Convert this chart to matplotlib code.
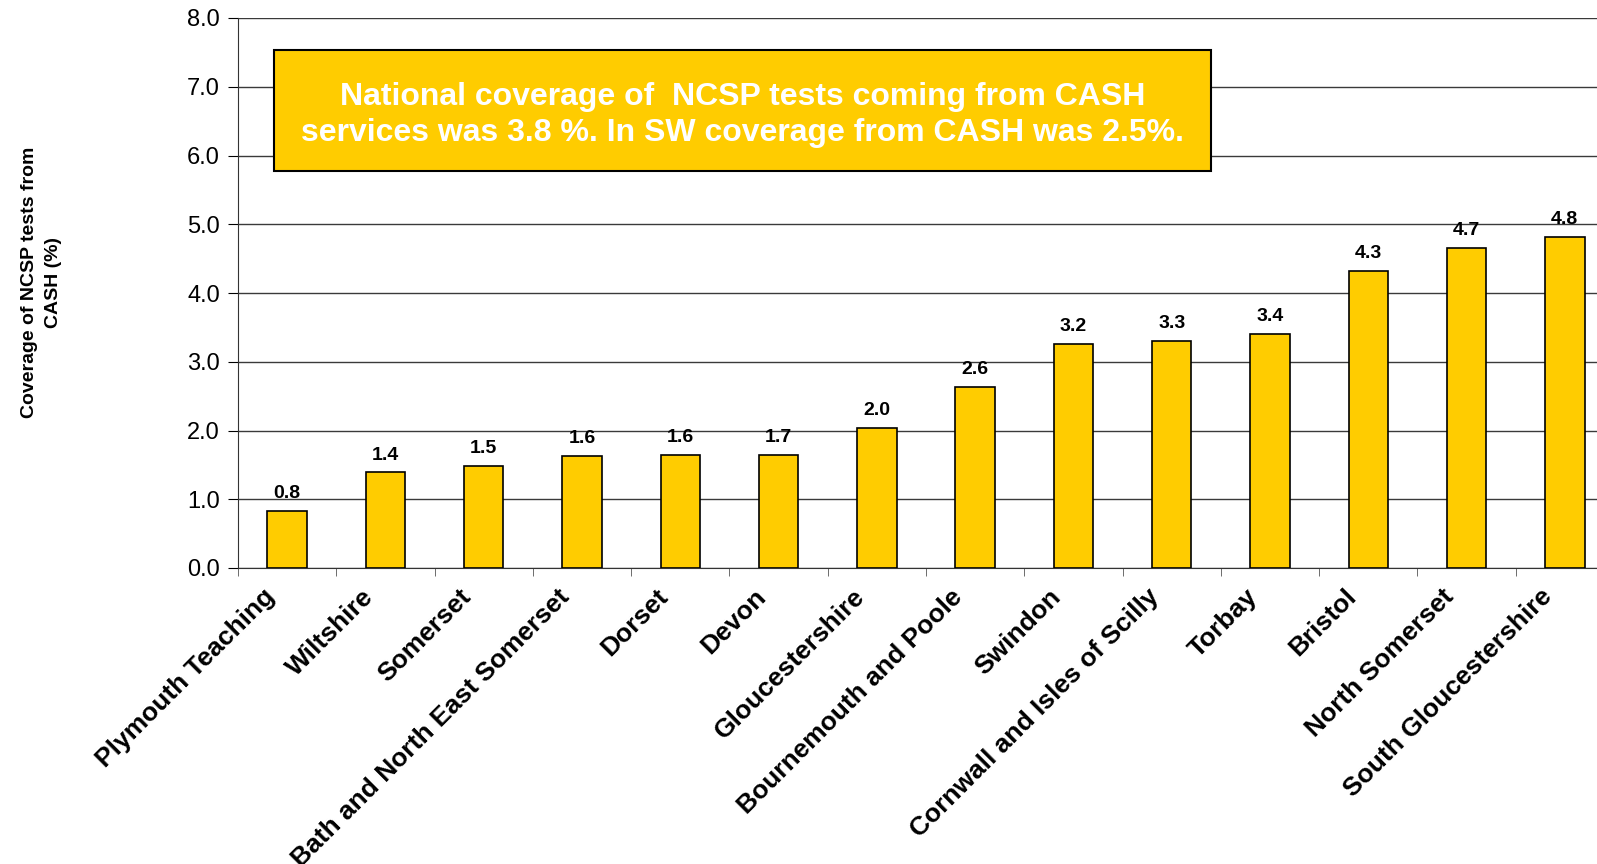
"""
Coverage of NCSP tests coming from CASH services, by PCT (South West).
Writes out.png (1597x864).
"""

import numpy as np
import matplotlib
matplotlib.use("Agg")
import matplotlib.pyplot as plt
from matplotlib.patches import Rectangle

plt.rcParams["font.family"] = ["Liberation Sans", "DejaVu Sans"]

areas = [
    "Plymouth Teaching", "Wiltshire", "Somerset", "Bath and North East Somerset",
    "Dorset", "Devon", "Gloucestershire", "Bournemouth and Poole", "Swindon",
    "Cornwall and Isles of Scilly", "Torbay", "Bristol", "North Somerset",
    "South Gloucestershire",
]
coverage = [0.83, 1.39, 1.48, 1.63, 1.65, 1.65, 2.04, 2.63, 3.26, 3.30, 3.41, 4.32, 4.66, 4.81]
value_labels = ["0.8", "1.4", "1.5", "1.6", "1.6", "1.7", "2.0", "2.6", "3.2", "3.3",
                "3.4", "4.3", "4.7", "4.8"]
y_ticks = [0, 1, 2, 3, 4, 5, 6, 7, 8]
note = ("National coverage of  NCSP tests coming from CASH\n"
        "services was 3.8 %. In SW coverage from CASH was 2.5%.")

YELLOW = "#FFCC00"

W, H = 1597, 864
fig = plt.figure(figsize=(W / 100, H / 100), dpi=100)
# axes run past the right edge of the picture, as in the original slide crop
ax = fig.add_axes([238 / W, 1 - 568 / H, 1376 / W, 550 / H])

x = np.arange(len(areas))
ax.bar(x, coverage, width=0.4, color=YELLOW, edgecolor="black", linewidth=1.2, zorder=3)
for xi, v, s in zip(x, coverage, value_labels):
    ax.text(xi, v + 0.13, s, ha="center", va="bottom", fontsize=14,
            fontweight="bold", zorder=4)

ax.set_xlim(-0.5, len(areas) - 0.5)
ax.set_ylim(0, 8)
ax.set_yticks(y_ticks)
ax.set_yticklabels([f"{t:.1f}" for t in y_ticks], fontsize=17)
ax.yaxis.grid(True, color="#3a3a3a", linewidth=1, zorder=0)

# category labels end a little left of the bar centre, as in the original
ax.set_xticks(x - 0.25)
ax.set_xticklabels(areas, rotation=45, ha="right", rotation_mode="anchor",
                   fontsize=19, fontweight="bold")
ax.set_xticks(np.arange(len(areas) + 1) - 0.5, minor=True)
ax.tick_params(axis="x", which="major", length=0, pad=12)
ax.tick_params(axis="x", which="minor", length=6, color="#555555")
ax.tick_params(axis="y", length=7, pad=6)

for side in ("top", "right"):
    ax.spines[side].set_visible(False)
ax.spines["left"].set_color("#333333")
ax.spines["bottom"].set_color("#333333")

ax.set_ylabel("Coverage of NCSP tests from\nCASH (%)", fontsize=14,
              fontweight="bold", linespacing=1.5)
ax.yaxis.set_label_coords(-0.128, 0.52)

# call-out box with the national / SW summary
ax.add_patch(Rectangle((-0.13, 5.78), 9.53, 1.76, facecolor=YELLOW,
                       edgecolor="black", linewidth=1.5, zorder=5))
ax.text(4.635, 6.59, note, ha="center", va="center", color="white",
        fontsize=23, fontweight="bold", linespacing=1.29, zorder=6)

fig.savefig("out.png", dpi=100)
